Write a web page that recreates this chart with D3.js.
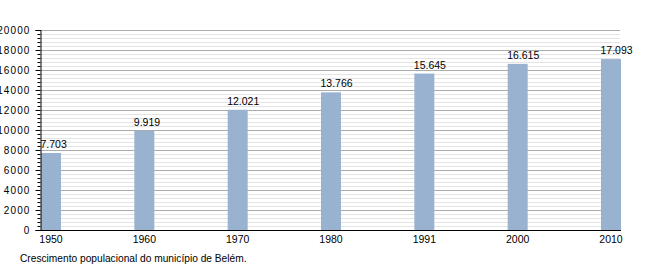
<!DOCTYPE html>
<html>
<head>
<meta charset="utf-8">
<script src="https://cdn.jsdelivr.net/npm/d3@7"></script>
<style>
    body { margin: 0; background: #fff; }
    text { font-family: "Liberation Sans", Arial, sans-serif; fill: #000; }
</style>
</head>
<body>
<svg id="chart" width="650" height="270"></svg>
<script>
// ====
// DATA
// ====
var years = ["1950", "1960", "1970", "1980", "1991", "2000", "2010"];
var population = [7703, 9919, 12021, 13766, 15645, 16615, 17093];
var valueLabels = ["7.703", "9.919", "12.021", "13.766", "15.645", "16.615", "17.093"];
var yTicks = [0, 2000, 4000, 6000, 8000, 10000, 12000, 14000, 16000, 18000, 20000];
var caption = "Crescimento populacional do município de Belém.";

// ########
// # MAIN #
// ########
var svg = d3.select("#chart");

var plotLeft = 40.5, plotRight = 621, plotTop = 30, plotBottom = 230;

var x = d3.scaleBand()
    .domain(years)
    .range([41, 621])
    .paddingInner(1 - 20 / 93.333)
    .paddingOuter(0);

var y = d3.scaleLinear()
    .domain([0, 20000])
    .range([plotBottom, plotTop]);

// minor grid every 400
var minor = d3.range(0, 20001, 400).filter(function (v) { return v % 2000 !== 0; });

svg.append("g")
    .selectAll("line")
    .data(minor)
    .enter().append("line")
    .attr("x1", plotLeft)
    .attr("x2", 620)
    .attr("y1", function (d) { return Math.round(y(d)) + 0.5; })
    .attr("y2", function (d) { return Math.round(y(d)) + 0.5; })
    .attr("stroke", "#e4e4e4");

svg.append("g")
    .selectAll("line")
    .data(yTicks.filter(function (d) { return d > 0; }))
    .enter().append("line")
    .attr("x1", plotLeft)
    .attr("x2", 620)
    .attr("y1", function (d) { return Math.round(y(d)) + 0.5; })
    .attr("y2", function (d) { return Math.round(y(d)) + 0.5; })
    .attr("stroke", "#ababab");

// bars
svg.append("g")
    .selectAll("rect")
    .data(population)
    .enter().append("rect")
    .attr("x", function (d, i) { return x(years[i]); })
    .attr("y", function (d) { return y(d); })
    .attr("width", x.bandwidth())
    .attr("height", function (d) { return plotBottom - y(d); })
    .attr("fill", "#98b2cf");

// value labels
svg.append("g")
    .selectAll("text")
    .data(population)
    .enter().append("text")
    .attr("x", function (d, i) { return x(years[i]) - 0.5; })
    .attr("y", function (d) { return y(d) - 5; })
    .attr("font-size", "10.5px")
    .text(function (d, i) { return valueLabels[i]; });

// y axis with minor ticks
var yAxis = svg.append("g")
    .attr("transform", "translate(" + plotLeft + ",0)")
    .call(d3.axisLeft(y).tickValues(yTicks).tickSize(5).tickPadding(5).tickFormat(d3.format("d")));

yAxis.selectAll("text")
    .attr("font-size", "10px")
    .attr("letter-spacing", "1.1px")
    .style("font-family", "\"Liberation Sans\", Arial, sans-serif");

svg.append("g")
    .selectAll("line")
    .data(minor)
    .enter().append("line")
    .attr("x1", plotLeft - 3)
    .attr("x2", plotLeft)
    .attr("y1", function (d) { return Math.round(y(d)) + 0.5; })
    .attr("y2", function (d) { return Math.round(y(d)) + 0.5; })
    .attr("stroke", "#000");

yAxis.select(".domain").attr("stroke", "#000");

// x axis
svg.append("line")
    .attr("x1", plotLeft)
    .attr("x2", 621)
    .attr("y1", plotBottom + 0.5)
    .attr("y2", plotBottom + 0.5)
    .attr("stroke", "#000");

svg.append("g")
    .selectAll("text")
    .data(years)
    .enter().append("text")
    .attr("x", function (d) { return x(d) + x.bandwidth() / 2; })
    .attr("y", plotBottom + 13)
    .attr("text-anchor", "middle")
    .attr("font-size", "10.5px")
    .text(function (d) { return d; });

// caption
svg.append("text")
    .attr("x", 20)
    .attr("y", 262)
    .attr("font-size", "10.2px")
    .text(caption);
</script>
</body>
</html>
